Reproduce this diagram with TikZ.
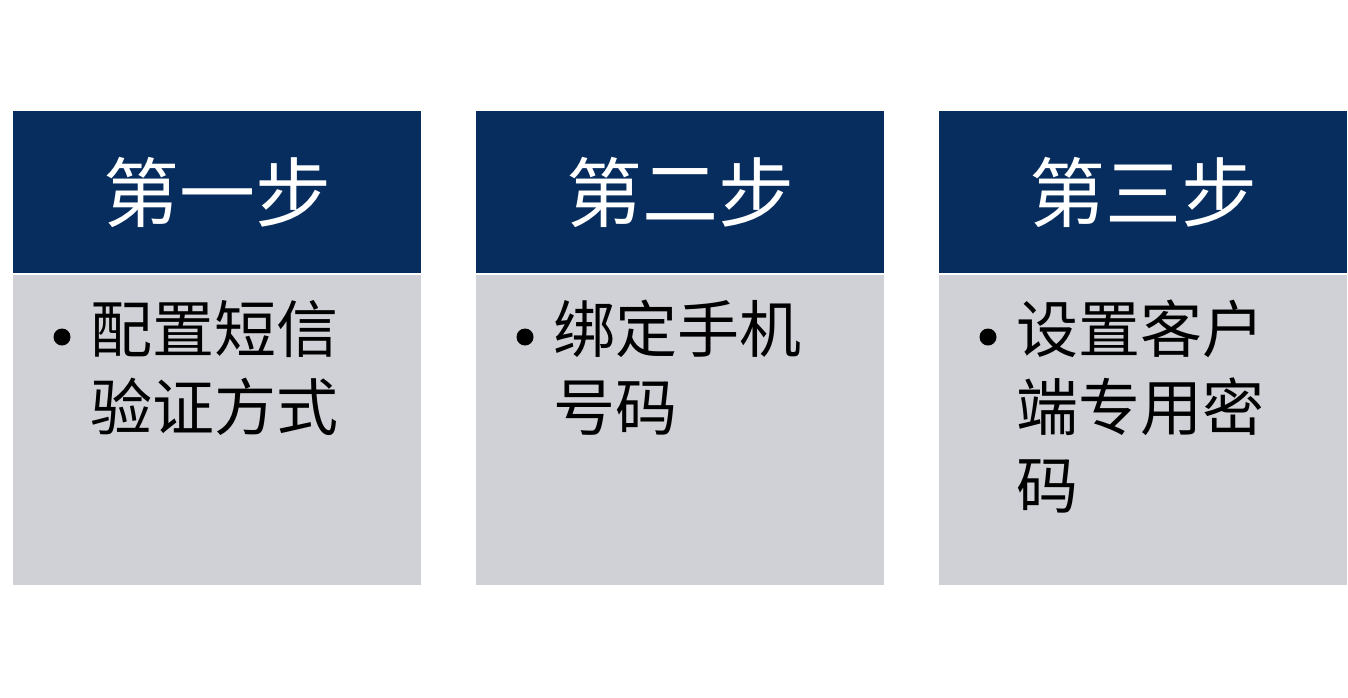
\documentclass[tikz,border=0pt]{standalone}
\usepackage{fontspec}
\newfontfamily\cjk{Noto Sans CJK SC}
\definecolor{navy}{HTML}{062D5E}
\definecolor{pale}{HTML}{D0D1D6}
\begin{document}
\begin{tikzpicture}[x=1pt,y=-1pt,
  head/.style={fill=navy,draw=none},
  body/.style={fill=pale,draw=none},
  title/.style={text=white,font=\cjk\fontsize{76}{80}\selectfont,anchor=center},
  item/.style={text=black,font=\cjk\fontsize{62}{78}\selectfont,anchor=north west,align=left,text width=280pt,inner sep=0pt},
  dot/.style={circle,fill=black,inner sep=0pt,minimum size=17pt}]
\useasboundingbox (0,0) rectangle (1348,697);
\foreach \x/\t/\n in {13/第一步/a,476/第二步/b,939/第三步/c}{
  \fill[head] (\x,111) rectangle ++(408,162);
  \fill[body] (\x,275) rectangle ++(408,310);
  \node[title] (t\n) at (\x+204,192) {\t};
  \node[dot] (d\n) at (\x+49,337) {};
}
\node[item] (ia) at (90,300) {配置短信\\验证方式};
\node[item] (ib) at (553,300) {绑定手机\\号码};
\node[item] (ic) at (1016,300) {设置客户\\端专用密\\码};
\end{tikzpicture}
\end{document}
